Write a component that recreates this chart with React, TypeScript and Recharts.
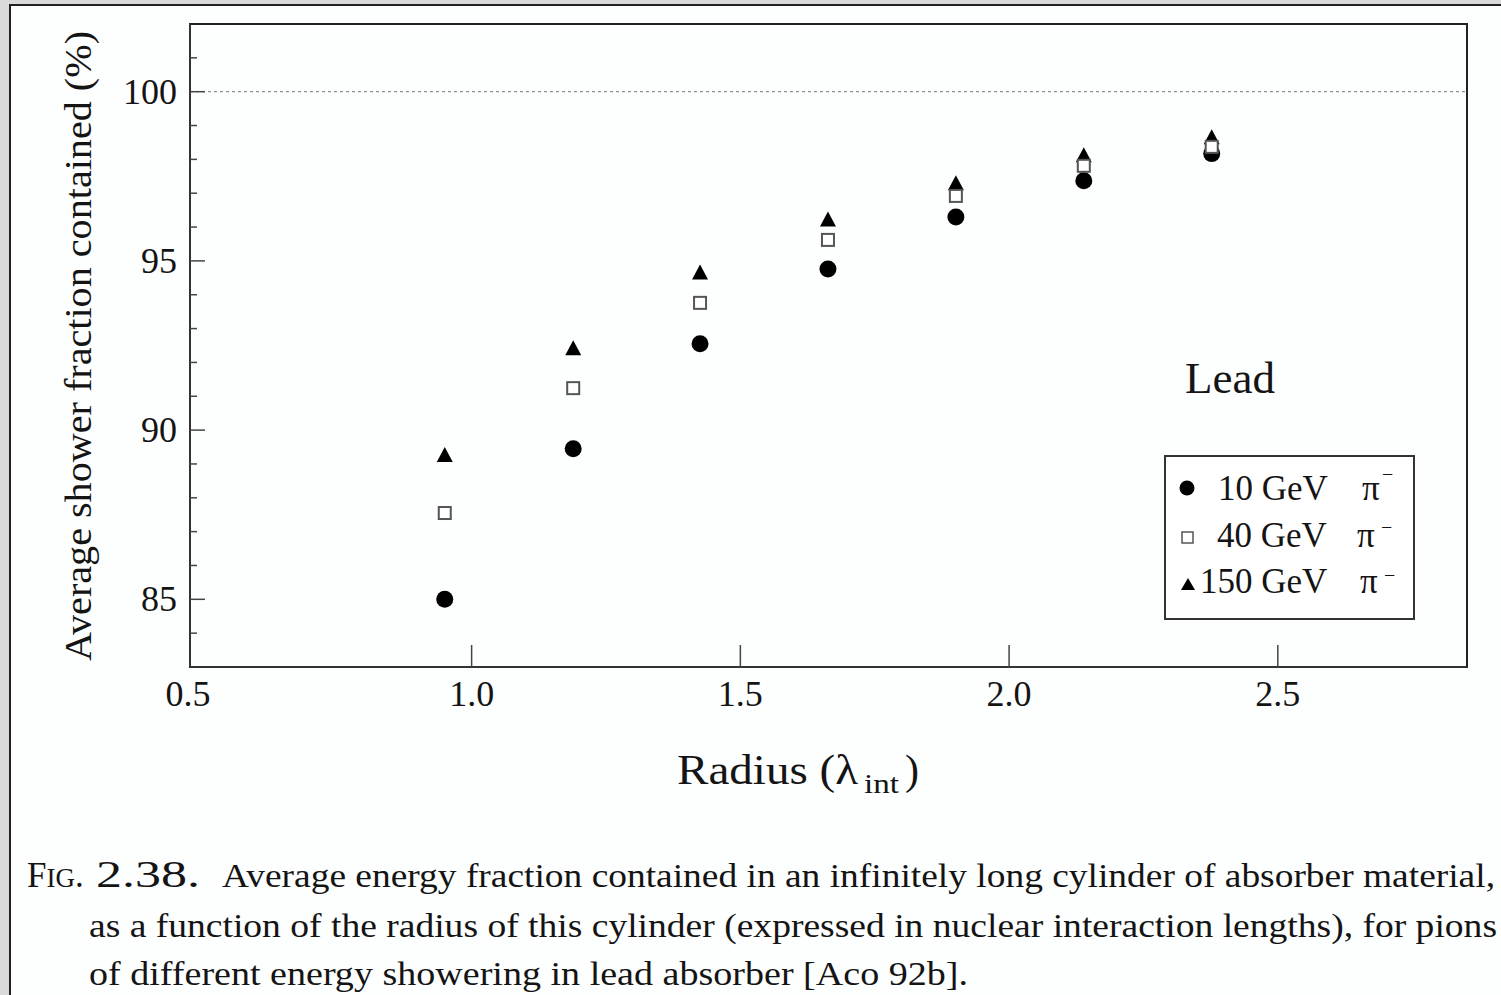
import {
  ScatterChart,
  Scatter,
  XAxis,
  YAxis,
  ReferenceLine,
  ReferenceArea,
} from "recharts";

const radius = [0.95, 1.189, 1.425, 1.663, 1.901, 2.139, 2.377];
const gev10 = [85.0, 89.45, 92.55, 94.76, 96.3, 97.37, 98.17];
const gev40 = [87.55, 91.24, 93.76, 95.62, 96.92, 97.81, 98.37];
const gev150 = [89.28, 92.43, 94.67, 96.24, 97.31, 98.14, 98.67];

const xTicks = [0.5, 1.0, 1.5, 2.0, 2.5];
const yTicks = [84, 85, 86, 87, 88, 89, 90, 91, 92, 93, 94, 95, 96, 97, 98, 99, 100, 101];
const yLabels = [85, 90, 95, 100];

const serif = '"Liberation Serif", "Times New Roman", Times, serif';
const ink = "#141414";

const toPoints = (ys: number[]) => radius.map((x, i) => ({ x, y: ys[i] }));

function XTick({ x, y, payload }: any) {
  const v = payload.value;
  const first = v === 0.5;
  return (
    <g>
      {!first && (
        <line x1={x} y1={y} x2={x} y2={y - 22} stroke="#444" strokeWidth={1.5} />
      )}
      <text
        x={first ? x - 15 : x}
        y={y + 39}
        textAnchor="middle"
        fontSize={36}
        fontFamily={serif}
        fill={ink}
      >
        {v.toFixed(1)}
      </text>
    </g>
  );
}

function YTick({ x, y, payload }: any) {
  const v = payload.value;
  const major = yLabels.includes(v);
  return (
    <g>
      <line x1={x} y1={y} x2={x + (major ? 15 : 7)} y2={y} stroke="#444" strokeWidth={1.5} />
      {major && (
        <text
          x={x - 13}
          y={y + 12}
          textAnchor="end"
          fontSize={36}
          fontFamily={serif}
          fill={ink}
        >
          {v}
        </text>
      )}
    </g>
  );
}

const Dot = ({ cx, cy }: any) => <circle cx={cx} cy={cy} r={8.5} fill="#000" />;
const Box = ({ cx, cy }: any) => (
  <rect x={cx - 6} y={cy - 6} width={12} height={12} fill="#fff" stroke="#555" strokeWidth={2} />
);
const Tri = ({ cx, cy }: any) => (
  <path d={`M${cx},${cy - 7.5} L${cx + 8},${cy + 7.5} L${cx - 8},${cy + 7.5} Z`} fill="#000" />
);

function Overlay() {
  return (
    <svg
      width={1501}
      height={995}
      style={{ position: "absolute", left: 0, top: 0, pointerEvents: "none" }}
      fontFamily={serif}
      fill={ink}
    >
      <text
        transform="translate(91,346) rotate(-90)"
        textAnchor="middle"
        fontSize={37}
        textLength={630}
        lengthAdjust="spacingAndGlyphs"
      >
        Average shower fraction contained (%)
      </text>

      {/* x axis title */}
      <text x={677} y={784} fontSize={42} textLength={181} lengthAdjust="spacingAndGlyphs">
        Radius (λ
      </text>
      <text x={864} y={793} fontSize={28} textLength={35} lengthAdjust="spacingAndGlyphs">
        int
      </text>
      <text x={905} y={784} fontSize={42}>
        )
      </text>

      <text x={1185} y={393} fontSize={45}>
        Lead
      </text>

      {/* legend */}
      <rect x={1165} y={456} width={249} height={163} fill="#fff" stroke="#333" strokeWidth={2} />
      <circle cx={1187} cy={488} r={7.5} fill="#000" />
      <rect x={1182} y={532} width={11} height={11} fill="#fff" stroke="#555" strokeWidth={1.5} />
      <path d="M1188,578 L1195,590 L1181,590 Z" fill="#000" />

      <text x={1218} y={500} fontSize={35}>10 GeV</text>
      <text x={1362} y={500} fontSize={35}>π</text>
      <text x={1382} y={481} fontSize={20}>−</text>

      <text x={1217} y={547} fontSize={35}>40 GeV</text>
      <text x={1357} y={547} fontSize={35}>π</text>
      <text x={1381} y={534} fontSize={20}>−</text>

      <text x={1200} y={593} fontSize={35}>150 GeV</text>
      <text x={1360} y={593} fontSize={35}>π</text>
      <text x={1384} y={582} fontSize={20}>−</text>

      {/* caption */}
      <text x={27} y={887} fontSize={35}>
        F<tspan fontSize={27}>IG</tspan>.
      </text>
      <text x={96} y={887} fontSize={38} textLength={104} lengthAdjust="spacingAndGlyphs">
        2.38.
      </text>
      <text x={222} y={887} fontSize={34} textLength={1273} lengthAdjust="spacingAndGlyphs">
        Average energy fraction contained in an infinitely long cylinder of absorber material,
      </text>
      <text x={89} y={937} fontSize={34} textLength={1408} lengthAdjust="spacingAndGlyphs">
        as a function of the radius of this cylinder (expressed in nuclear interaction lengths), for pions
      </text>
      <text x={89} y={985} fontSize={34} textLength={879} lengthAdjust="spacingAndGlyphs">
        of different energy showering in lead absorber [Aco 92b].
      </text>
    </svg>
  );
}

export default function App() {
  return (
    <div style={{ position: "relative", width: 1501, height: 995, background: "#dadada", overflow: "hidden" }}>
      <style>{`body{margin:0}`}</style>
      <div
        style={{
          position: "absolute",
          left: 9,
          top: 4,
          width: 1500,
          height: 1000,
          background: "#fdfefe",
          borderLeft: "2px solid #222",
          borderTop: "2px solid #222",
        }}
      />
      <div style={{ position: "absolute", left: 0, top: 0 }}>
        <ScatterChart
          width={1501}
          height={995}
          margin={{ top: 24, right: 34, left: 0, bottom: 268 }}
        >
          <XAxis
            type="number"
            dataKey="x"
            domain={[0.476, 2.852]}
            ticks={xTicks}
            interval={0}
            allowDataOverflow
            height={60}
            tickSize={0}
            tickMargin={0}
            tick={<XTick />}
            axisLine={{ stroke: "#333", strokeWidth: 2 }}
            tickLine={false}
          />
          <YAxis
            type="number"
            dataKey="y"
            domain={[83, 102]}
            ticks={yTicks}
            interval={0}
            allowDataOverflow
            width={190}
            tickSize={0}
            tickMargin={0}
            tick={<YTick />}
            axisLine={{ stroke: "#333", strokeWidth: 2 }}
            tickLine={false}
          />
          <ReferenceArea
            x1={0.476}
            x2={2.852}
            y1={83}
            y2={102}
            fill="none"
            stroke="#222"
            strokeWidth={2}
          />
          <ReferenceLine y={100} stroke="#777" strokeDasharray="3 3" strokeWidth={1} />
          <Scatter data={toPoints(gev10)} shape={<Dot />} isAnimationActive={false} />
          <Scatter data={toPoints(gev150)} shape={<Tri />} isAnimationActive={false} />
          <Scatter data={toPoints(gev40)} shape={<Box />} isAnimationActive={false} />
        </ScatterChart>
      </div>
      <Overlay />
    </div>
  );
}
